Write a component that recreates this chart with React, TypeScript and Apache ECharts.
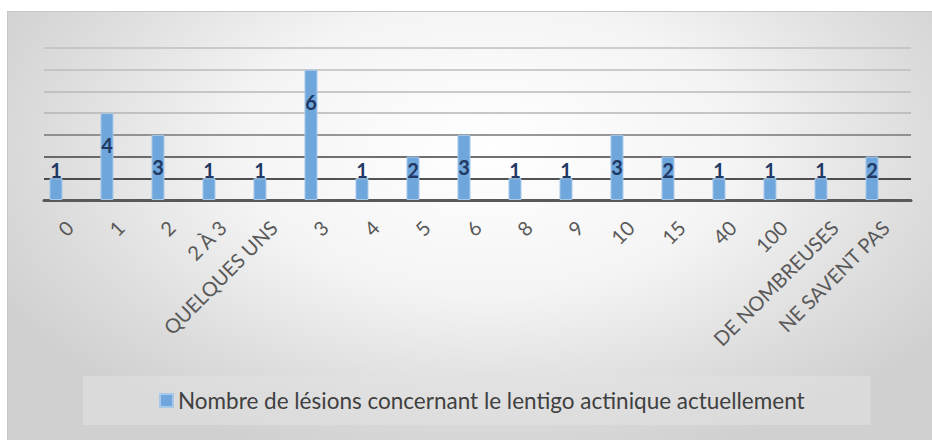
import React, { useEffect, useRef } from "react";
import * as echarts from "echarts";

const categories = [
  "0", "1", "2", "2 À 3", "QUELQUES UNS", "3", "4", "5", "6", "8", "9",
  "10", "15", "40", "100", "DE NOMBREUSES", "NE SAVENT PAS",
];
const values = [1, 4, 3, 1, 1, 6, 1, 2, 3, 1, 1, 3, 2, 1, 1, 1, 2];
const emptyValues = categories.map(() => null);
const seriesName = "Nombre de lésions concernant le lentigo actinique actuellement";
const yMax = 7;

const FONT = "Lato, 'Open Sans', sans-serif";

export default function App() {
  const ref = useRef<HTMLDivElement>(null);
  useEffect(() => {
    if (!ref.current) return;
    const chart = echarts.init(ref.current, undefined, { renderer: "svg" });
    chart.setOption({
      animation: false,
      backgroundColor: "transparent",
      textStyle: { fontFamily: FONT },
      grid: { left: 36, right: 22, top: 36, bottom: 241, containLabel: false },
      legend: {
        show: true,
        left: 75,
        top: 364,
        padding: [13, 66, 13, 76],
        backgroundColor: "rgba(225,225,225,0.55)",
        itemWidth: 13,
        itemHeight: 13,
        itemGap: 6,
        icon: "rect",
        textStyle: { fontSize: 22.5, color: "#404040", fontFamily: FONT },
        data: [seriesName],
      },
      xAxis: {
        type: "category",
        data: categories,
        axisLine: { show: true, lineStyle: { color: "#595959", width: 3 } },
        axisTick: { show: false },
        axisLabel: {
          rotate: 45,
          interval: 0,
          margin: 24,
          fontSize: 20,
          color: "#595959",
          fontFamily: FONT,
        },
      },
      yAxis: {
        type: "value",
        min: 0,
        max: yMax,
        interval: 1,
        axisLabel: { show: false },
        axisLine: { show: false },
        axisTick: { show: false },
        splitLine: {
          show: true,
          lineStyle: {
            width: 1.5,
            color: [
              "#595959", "#1a1a1a", "#404040", "#767676",
              "#b5b5b5", "#b8b8b8", "#bcbcbc", "#bfbfbf",
            ],
          },
        },
      },
      series: [
        {
          name: seriesName,
          type: "bar",
          barWidth: 13,
          barGap: "108%",
          itemStyle: { color: "#6fa6db", borderColor: "#a8c8ea", borderWidth: 1 },
          label: {
            show: true,
            color: "#1f3864",
            fontWeight: "bold",
            fontSize: 20,
            fontFamily: FONT,
          },
          data: values.map((v) => ({
            value: v,
            label:
              v >= 3
                ? { position: "insideTop", distance: 22 }
                : { position: "insideBottom", distance: 20 },
          })),
        },
        {
          name: "_empty",
          type: "bar",
          barWidth: 13,
          data: emptyValues,
          itemStyle: { color: "transparent" },
        },
      ],
    });
    return () => chart.dispose();
  }, []);

  return (
    <div
      style={{
        position: "absolute",
        left: 7,
        top: 11,
        width: 925,
        height: 429,
        boxSizing: "border-box",
        borderTop: "1px solid #c6c6c6",
        borderLeft: "1px solid #c6c6c6",
        background:
          "radial-gradient(ellipse 60% 75% at 52% 32%, #ffffff 0%, #f4f4f4 45%, #dcdcdc 80%, #d0d0d0 100%)",
        overflow: "hidden",
      }}
    >
      <div ref={ref} style={{ width: 925, height: 429 }} />
    </div>
  );
}
